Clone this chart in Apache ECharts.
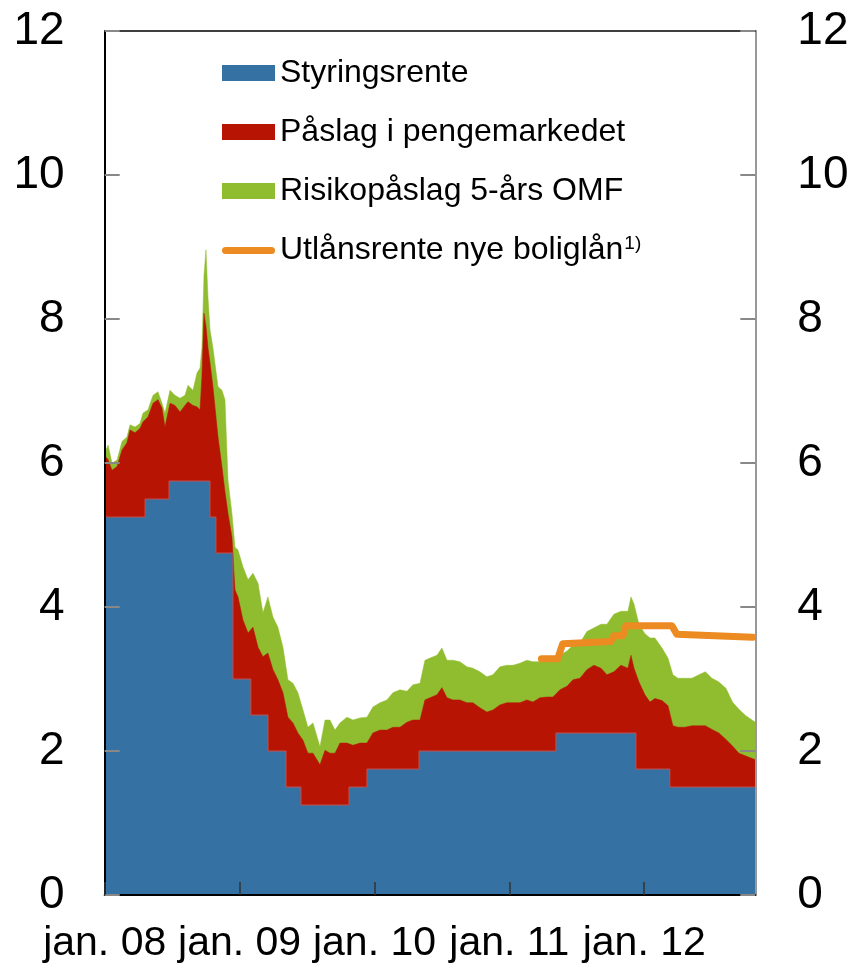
<!DOCTYPE html>
<html>
<head>
<meta charset="utf-8">
<script src="https://cdn.jsdelivr.net/npm/echarts@6/dist/echarts.min.js"></script>
<style>
	html, body { margin: 0; padding: 0; background: #fff; }
	#chart { width: 854px; height: 970px; }
</style>
</head>
<body>
<div id="chart"></div>
<script>
// x-verdier er måneder etter jan. 08
var policyMonths = [0, 3.59, 5.72, 9.37, 9.9, 11.41, 13.0, 14.53, 16.13, 17.46, 21.73, 23.33, 27.96, 40.14, 47.26, 50.28, 57.88];
var policyRate = [5.25, 5.5, 5.75, 5.25, 4.75, 3.0, 2.5, 2.0, 1.5, 1.25, 1.5, 1.75, 2.0, 2.25, 1.75, 1.5, 1.5];

var spreadMonths = [0, 0.3, 0.65, 1.1, 1.54, 1.98, 2.25, 2.7, 3.14, 3.4,
	3.85, 4.3, 4.74, 5.1, 5.36, 5.81, 6.25, 6.7, 7.14, 7.41,
	7.85, 8.21, 8.48, 8.65, 8.83, 9.01, 9.19, 9.37, 9.63, 10.08,
	10.43, 10.7, 10.97, 11.32, 11.59, 11.86, 12.3, 12.75, 13.19, 13.64,
	14.08, 14.52, 14.97, 15.41, 15.86, 16.3, 16.75, 17.19, 17.64, 18.08,
	18.53, 19.15, 19.6, 20.04, 20.49, 20.93, 21.55, 22.09, 22.71, 23.33,
	23.86, 24.49, 25.11, 25.64, 26.27, 26.89, 27.42, 28.05, 28.49, 28.94,
	29.56, 30.0, 30.45, 30.98, 31.6, 32.22, 32.76, 33.38, 34.0, 34.54,
	35.16, 35.78, 36.32, 36.94, 37.56, 38.1, 38.72, 39.35, 39.88, 40.5,
	41.13, 41.66, 42.28, 42.9, 43.52, 44.15, 44.68, 45.3, 45.92, 46.55,
	46.82, 47.09, 47.53, 48.06, 48.51, 48.95, 49.58, 50.11, 50.55, 51.0,
	51.62, 52.24, 52.87, 53.44, 54.02, 54.64, 55.27, 55.85, 56.42, 57.04,
	57.88];
// styringsrente + påslag i pengemarkedet
var moneyMarketLevel = [6.1, 6.05, 5.9, 5.95, 6.18, 6.28, 6.46, 6.42, 6.48, 6.57,
	6.64, 6.83, 6.88, 6.76, 6.5, 6.83, 6.8, 6.71, 6.8, 6.85,
	6.8, 6.78, 6.74, 7.2, 8.08, 7.9, 7.6, 7.39, 7.06, 6.36,
	5.95, 5.6, 5.3, 4.97, 4.24, 4.14, 3.82, 3.64, 3.72, 3.44,
	3.31, 3.36, 3.13, 2.99, 2.81, 2.47, 2.39, 2.25, 2.15, 1.97,
	1.97, 1.81, 2.01, 1.97, 1.97, 2.11, 2.11, 2.08, 2.11, 2.11,
	2.25, 2.29, 2.29, 2.33, 2.33, 2.4, 2.43, 2.43, 2.71, 2.74,
	2.78, 2.88, 2.74, 2.71, 2.71, 2.67, 2.67, 2.6, 2.54, 2.57,
	2.64, 2.67, 2.67, 2.67, 2.71, 2.68, 2.74, 2.75, 2.75, 2.85,
	2.9, 2.99, 3.01, 3.13, 3.19, 3.15, 3.06, 3.1, 3.19, 3.15,
	3.33, 3.15, 2.96, 2.78, 2.68, 2.73, 2.7, 2.63, 2.35, 2.33,
	2.33, 2.35, 2.35, 2.35, 2.3, 2.25, 2.16, 2.07, 1.97, 1.93,
	1.88];
// + risikopåslag 5-års OMF
var omfLevel = [6.14, 6.25, 6.0, 6.04, 6.3, 6.36, 6.53, 6.5, 6.55, 6.69,
	6.74, 6.94, 6.99, 6.83, 6.69, 7.01, 6.94, 6.9, 6.94, 7.08,
	7.01, 7.25, 7.32, 7.6, 8.6, 8.96, 8.3, 7.85, 7.6, 7.06,
	7.01, 6.88, 5.76, 5.3, 4.83, 4.79, 4.56, 4.38, 4.47, 4.33,
	3.92, 4.14, 3.86, 3.72, 3.44, 2.99, 2.94, 2.81, 2.57, 2.33,
	2.39, 2.06, 2.43, 2.43, 2.29, 2.39, 2.47, 2.43, 2.46, 2.47,
	2.61, 2.67, 2.71, 2.81, 2.85, 2.83, 2.92, 2.94, 3.26, 3.29,
	3.33, 3.43, 3.26, 3.26, 3.24, 3.17, 3.15, 3.1, 3.03, 3.06,
	3.17, 3.19, 3.19, 3.22, 3.26, 3.24, 3.24, 3.26, 3.26, 3.33,
	3.39, 3.47, 3.5, 3.66, 3.71, 3.76, 3.76, 3.9, 3.94, 3.94,
	4.14, 4.04, 3.76, 3.63, 3.57, 3.57, 3.43, 3.29, 3.06, 3.01,
	3.01, 3.01, 3.06, 3.1, 3.01, 2.96, 2.87, 2.68, 2.58, 2.49,
	2.4];

var lendingMonths = [38.85, 40.3, 40.75, 45.03, 45.3, 46.1, 46.37, 50.46, 50.9, 57.66];
var lendingRate = [3.28, 3.28, 3.49, 3.52, 3.6, 3.6, 3.74, 3.74, 3.62, 3.58];

var yTicks = [0, 2, 4, 6, 8, 10, 12];
var xStartYear = 8;
var xMax = 57.88;

function zip(xs, ys) {
	var out = [];
	for (var i = 0; i < xs.length && i < ys.length; i++) {
		out.push([xs[i], ys[i]]);
	}
	return out;
}

var FONT = '"Liberation Sans", Arial, sans-serif';
// tykk strek med runde ender som legendsymbol (usynlige punkter holder boksen 53x16)
var LINE_ICON = 'path://M0,0 M53,16 M3.5,4.5 L49.5,4.5 A3.5,3.5 0 0 1 49.5,11.5 L3.5,11.5 A3.5,3.5 0 0 1 3.5,4.5 Z';
var myChart = echarts.init(document.getElementById('chart'), null, {renderer: 'canvas'});

function yAxisDef(pos, lineColor) {
	return {
		type: 'value',
		position: pos,
		min: yTicks[0],
		max: yTicks[yTicks.length - 1],
		interval: 2,
		z: 10,
		axisLine: {show: true, onZero: false, lineStyle: {color: lineColor, width: 2}},
		axisTick: {show: true, inside: true, length: 15, lineStyle: {color: '#888', width: 2}},
		axisLabel: {fontSize: 46, color: '#000', fontFamily: FONT, margin: pos === 'left' ? 40 : 42},
		splitLine: {show: false}
	};
}

var option = {
	animation: false,
	grid: {left: 104.7, right: 98.7, top: 31, bottom: 75, containLabel: false},
	legend: {
		orient: 'vertical',
		left: 217,
		top: 52,
		itemWidth: 53,
		itemHeight: 16,
		itemGap: 27,
		textStyle: {
			fontSize: 32,
			fontFamily: FONT,
			color: '#000',
			rich: {
				sup: {fontSize: 19, fontFamily: FONT, color: '#000', verticalAlign: 'top', padding: [0, 0, 14, 1]}
			}
		},
		formatter: function (name) {
			if (name === 'Utlånsrente nye boliglån') return name + '{sup|1)}';
			return name;
		},
		data: [
			{name: 'Styringsrente', icon: 'rect'},
			{name: 'Påslag i pengemarkedet', icon: 'rect'},
			{name: 'Risikopåslag 5-års OMF', icon: 'rect'},
			{name: 'Utlånsrente nye boliglån', icon: LINE_ICON}
		]
	},
	xAxis: [
		{
			type: 'value',
			min: 0,
			max: xMax,
			interval: 12,
			z: 10,
			axisLine: {show: true, onZero: false, lineStyle: {color: '#000', width: 2}},
			axisTick: {show: true, inside: true, length: 13, lineStyle: {color: '#333', width: 1.5}},
			axisLabel: {
				fontSize: 41,
				color: '#000',
				fontFamily: FONT,
				margin: 28,
				showMaxLabel: false,
				formatter: function (v) {
					if (v % 12 !== 0) return '';
					var yr = xStartYear + v / 12;
					return 'jan. ' + (yr < 10 ? '0' + yr : yr);
				}
			},
			splitLine: {show: false}
		},
		{
			type: 'value',
			position: 'top',
			min: 0,
			max: xMax,
			z: 10,
			axisLine: {show: true, onZero: false, lineStyle: {color: '#000', width: 1.5}},
			axisTick: {show: false},
			axisLabel: {show: false},
			splitLine: {show: false}
		}
	],
	yAxis: [yAxisDef('left', '#000'), yAxisDef('right', '#999')],
	series: [
		{
			name: 'Risikopåslag 5-års OMF',
			type: 'line',
			color: '#90BD2F',
			data: zip(spreadMonths, omfLevel),
			showSymbol: false,
			symbol: 'none',
			lineStyle: {width: 0.5, color: '#90BD2F'},
			areaStyle: {color: '#90BD2F', opacity: 1}
		},
		{
			name: 'Påslag i pengemarkedet',
			type: 'line',
			color: '#B81404',
			data: zip(spreadMonths, moneyMarketLevel),
			showSymbol: false,
			symbol: 'none',
			lineStyle: {width: 0.5, color: '#B81404'},
			areaStyle: {color: '#B81404', opacity: 1}
		},
		{
			name: 'Styringsrente',
			type: 'line',
			color: '#3671A4',
			step: 'end',
			data: zip(policyMonths, policyRate),
			showSymbol: false,
			symbol: 'none',
			lineStyle: {width: 1, color: '#C0504D'},
			areaStyle: {color: '#3671A4', opacity: 1}
		},
		{
			name: 'Utlånsrente nye boliglån',
			type: 'line',
			color: '#EC8B21',
			data: zip(lendingMonths, lendingRate),
			showSymbol: false,
			symbol: 'none',
			lineStyle: {width: 7, color: '#EC8B21', cap: 'round', join: 'round'}
		}
	]
};
myChart.setOption(option);
</script>
</body>
</html>
